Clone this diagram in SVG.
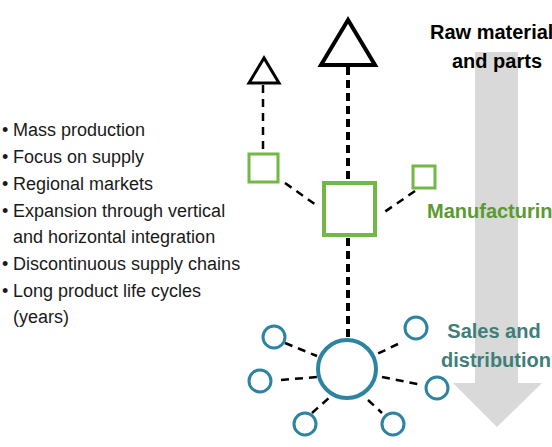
<svg xmlns="http://www.w3.org/2000/svg" width="552" height="447" viewBox="0 0 552 447">
<style>
.lst{font-family:"Liberation Sans",Arial,sans-serif;font-size:18px;fill:#1a1a1a}
.hd{font-family:"Liberation Sans",Arial,sans-serif;font-size:20px;font-weight:bold}
.tri{fill:none;stroke:#000;stroke-linejoin:miter}
.sq{fill:#fff;stroke:#72b844}
.ci{fill:#fff;stroke:#2c84a0}
.dl{stroke:#000;stroke-width:2.5;stroke-dasharray:8 6;fill:none}
.dk{stroke:#000;stroke-width:4;stroke-dasharray:8 5;fill:none}
</style>
<rect width="552" height="447" fill="#fff"/>
<g id="flow-arrow">
<polygon points="475,52 518,52 518,383 542,383 497,427 453,383 475,383" fill="#d9d9d9"/>
</g>
<g id="connectors">
<line class="dl" x1="263" y1="85" x2="263" y2="153"/>
<line class="dk" x1="348" y1="67" x2="348" y2="181"/>
<line class="dl" x1="285" y1="183" x2="316" y2="205"/>
<line class="dl" x1="415" y1="191" x2="383" y2="213"/>
<line class="dk" x1="348" y1="238" x2="348" y2="339"/>
<line class="dl" x1="285" y1="343" x2="317" y2="356"/>
<line class="dl" x1="398" y1="344" x2="375" y2="355"/>
<line class="dl" x1="281" y1="380" x2="317" y2="377"/>
<line class="dl" x1="382" y1="377" x2="422" y2="385"/>
<line class="dl" x1="312" y1="413" x2="330" y2="397"/>
<line class="dl" x1="368" y1="400" x2="382" y2="413"/>
</g>
<g id="raw-big"><polygon class="tri" stroke-width="4" points="348,20 321,65 375,65"/></g>
<g id="raw-small"><polygon class="tri" stroke-width="3" points="264,58 249,83 279,83"/></g>
<g id="mfg-big"><rect class="sq" stroke-width="4" x="324" y="183" width="51" height="52"/></g>
<g id="mfg-left"><rect class="sq" stroke-width="3" x="249" y="154" width="29" height="28"/></g>
<g id="mfg-right"><rect class="sq" stroke-width="3" x="413" y="166" width="22" height="22"/></g>
<g id="sales-big"><circle class="ci" stroke-width="4" cx="347" cy="369" r="29"/></g>
<g id="sales-1"><circle class="ci" stroke-width="3" cx="274" cy="337" r="11"/></g>
<g id="sales-2"><circle class="ci" stroke-width="3" cx="260" cy="381" r="11"/></g>
<g id="sales-3"><circle class="ci" stroke-width="3" cx="305" cy="424" r="11"/></g>
<g id="sales-4"><circle class="ci" stroke-width="3" cx="393" cy="424" r="11"/></g>
<g id="sales-5"><circle class="ci" stroke-width="3" cx="437" cy="388" r="11"/></g>
<g id="sales-6"><circle class="ci" stroke-width="3" cx="416" cy="328" r="11"/></g>
<g id="labels">
<text class="hd" x="430" y="39" fill="#000">Raw material</text>
<text class="hd" x="497" y="68" fill="#000" text-anchor="middle">and parts</text>
<text class="hd" x="427" y="218" fill="#5b9a30">Manufacturin</text>
<text class="hd" x="494" y="338" fill="#3f7e79" text-anchor="middle">Sales and</text>
<text class="hd" x="441" y="367" fill="#3f7e79">distribution</text>
</g>
<g id="list" class="lst">
<text x="2" y="136">•</text><text x="13" y="136">Mass production</text>
<text x="2" y="163">•</text><text x="13" y="163">Focus on supply</text>
<text x="2" y="190">•</text><text x="13" y="190">Regional markets</text>
<text x="2" y="217">•</text><text x="13" y="217">Expansion through vertical</text>
<text x="13" y="243">and horizontal integration</text>
<text x="2" y="270">•</text><text x="13" y="270">Discontinuous supply chains</text>
<text x="2" y="297">•</text><text x="13" y="297">Long product life cycles</text>
<text x="13" y="323">(years)</text>
</g>
</svg>
